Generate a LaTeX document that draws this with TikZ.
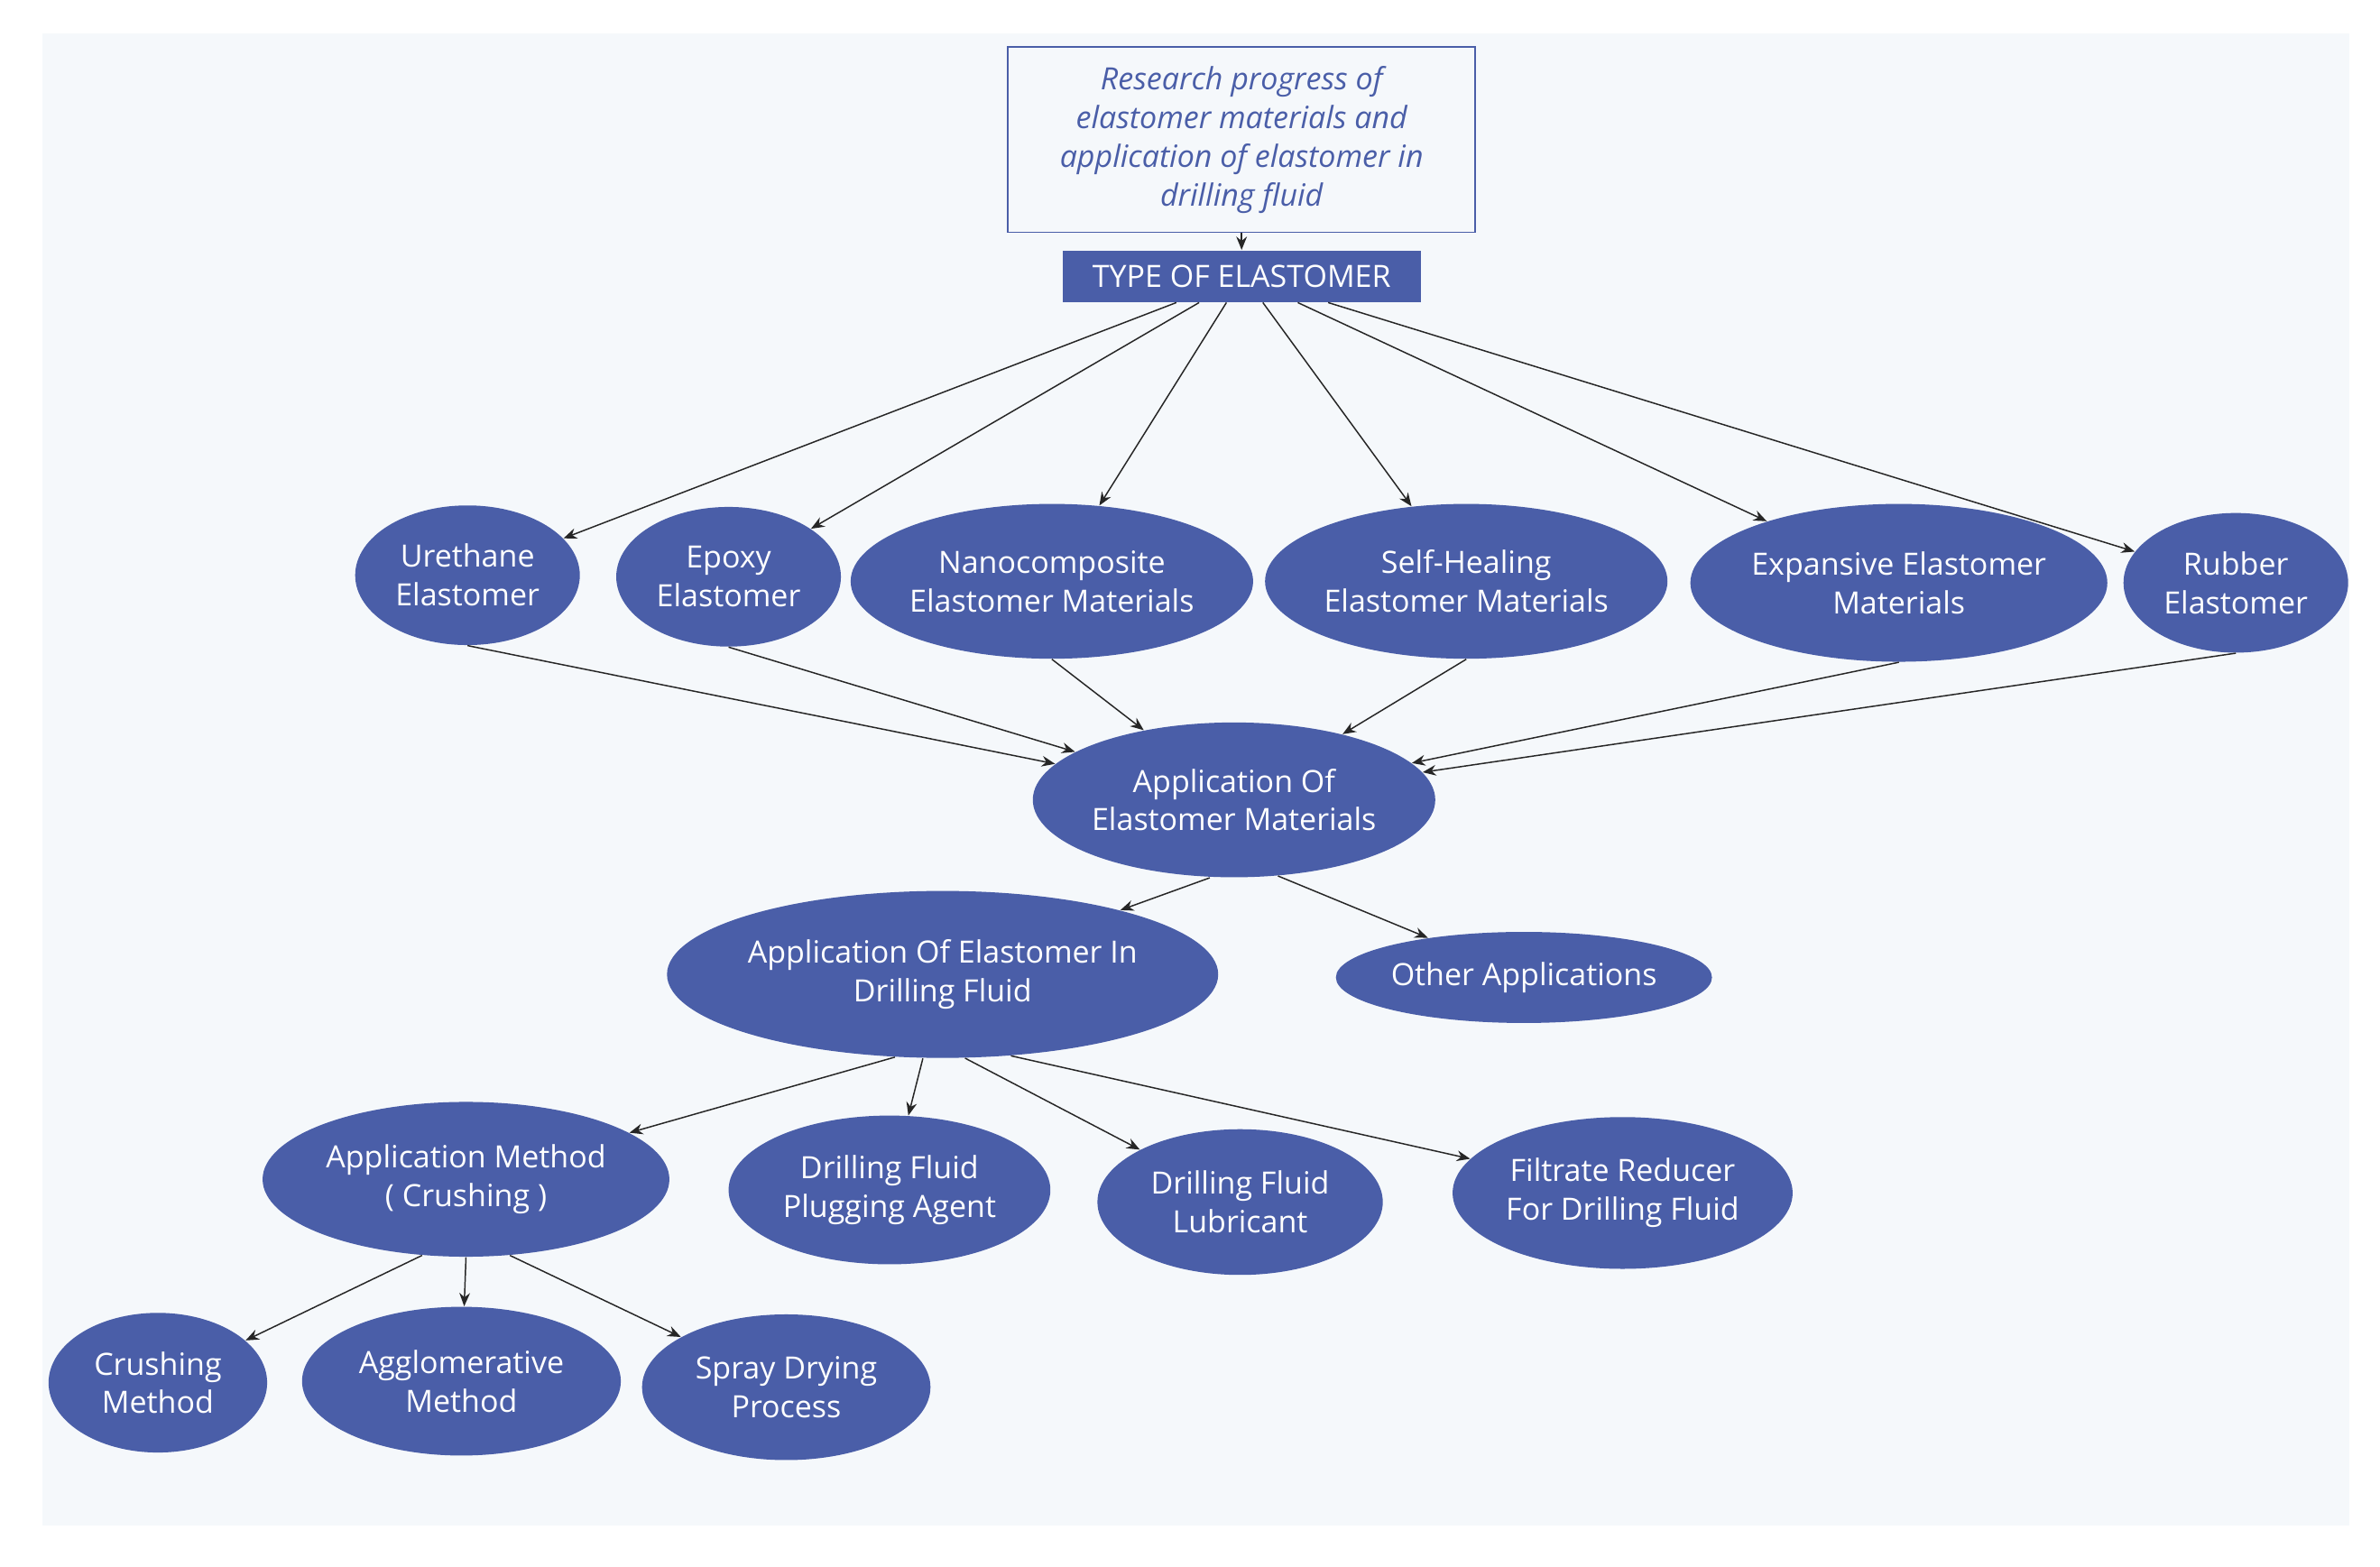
\documentclass[tikz,border=0pt]{standalone}
\usepackage{fontspec}
\setmainfont{Open Sans}
\usetikzlibrary{shapes.geometric,arrows.meta}
\definecolor{nb}{HTML}{4A5EA8}
\definecolor{bg}{HTML}{F5F8FB}
\begin{document}
\begin{tikzpicture}[x=0.02cm,y=-0.02cm,
  el/.style={ellipse,fill=nb,text=white,inner sep=0pt,align=center,font=\fontsize{11.5}{14.5}\selectfont},
  ar/.style={-{Stealth[length=5pt,width=4pt]},line width=0.5pt,black!85}]
\useasboundingbox (0,0) rectangle (1568,1032);
\fill[bg] (28,22) rectangle (1548,1005);
\node[draw=nb,line width=0.6pt,minimum width=308*0.02cm,minimum height=122*0.02cm,align=center,text=nb,font=\fontsize{11.5}{14.5}\selectfont\itshape] (title) at (818,92) {Research progress of\\elastomer materials and\\application of elastomer in\\drilling fluid};
\node[fill=nb,text=white,minimum width=236*0.02cm,minimum height=34*0.02cm,inner sep=0pt,font=\fontsize{11.5}{14}\selectfont] (type) at (818,182) {TYPE OF ELASTOMER};
\def\E#1#2#3#4#5#6{\node[el,minimum width=#4*0.02cm,minimum height=#5*0.02cm] (#1) at (#2,#3) {#6};}
\E{u}{308}{379}{148}{92}{Urethane\\Elastomer}
\E{ep}{480}{380}{148}{92}{Epoxy\\Elastomer}
\E{na}{693}{383}{258}{102}{Nanocomposite\\Elastomer Materials}
\E{sh}{966}{383}{258}{102}{Self-Healing\\Elastomer Materials}
\E{ex}{1251}{384}{272}{104}{Expansive Elastomer\\Materials}
\E{ru}{1473}{384}{148}{92}{Rubber\\Elastomer}
\E{am}{813}{527}{258}{102}{Application Of\\Elastomer Materials}
\E{df}{621}{642}{350}{110}{Application Of Elastomer In\\Drilling Fluid}
\E{ot}{1004}{644}{236}{60}{Other Applications}
\E{me}{307}{777}{268}{102}{Application Method\\( Crushing )}
\E{pl}{586}{784}{212}{98}{Drilling Fluid\\Plugging Agent}
\E{lu}{817}{792}{188}{96}{Drilling Fluid\\Lubricant}
\E{fi}{1069}{786}{224}{100}{Filtrate Reducer\\For Drilling Fluid}
\E{cr}{104}{911}{144}{92}{Crushing\\Method}
\E{ag}{304}{910}{210}{98}{Agglomerative\\Method}
\E{sp}{518}{914}{190}{96}{Spray Drying\\Process}
\draw[ar] (title) -- (type);
\draw[ar] ([xshift=-43*0.02cm]type.south) -- (u);
\draw[ar] ([xshift=-28*0.02cm]type.south) -- (ep);
\draw[ar] ([xshift=-10*0.02cm]type.south) -- (na);
\draw[ar] ([xshift=14*0.02cm]type.south) -- (sh);
\draw[ar] ([xshift=37*0.02cm]type.south) -- (ex);
\draw[ar] ([xshift=57*0.02cm]type.south) -- (ru);
\draw[ar] (u.south) -- (am);
\draw[ar] (ep.south) -- (am);
\draw[ar] (na.south) -- (am);
\draw[ar] (sh.south) -- (am);
\draw[ar] (ex.south) -- (am);
\draw[ar] (ru.south) -- (am);
\draw[ar] ([xshift=-16*0.02cm]am.south) -- (df);
\draw[ar] (am.-60) -- (ot);
\draw[ar] (df.-120) -- (me);
\draw[ar] ([xshift=-13*0.02cm]df.south) -- (pl);
\draw[ar] (df.-75) -- (lu);
\draw[ar] (df.-50) -- (fi);
\draw[ar] (me.-120) -- (cr);
\draw[ar] (me.south) -- (ag);
\draw[ar] (me.-60) -- (sp);
\end{tikzpicture}
\end{document}
